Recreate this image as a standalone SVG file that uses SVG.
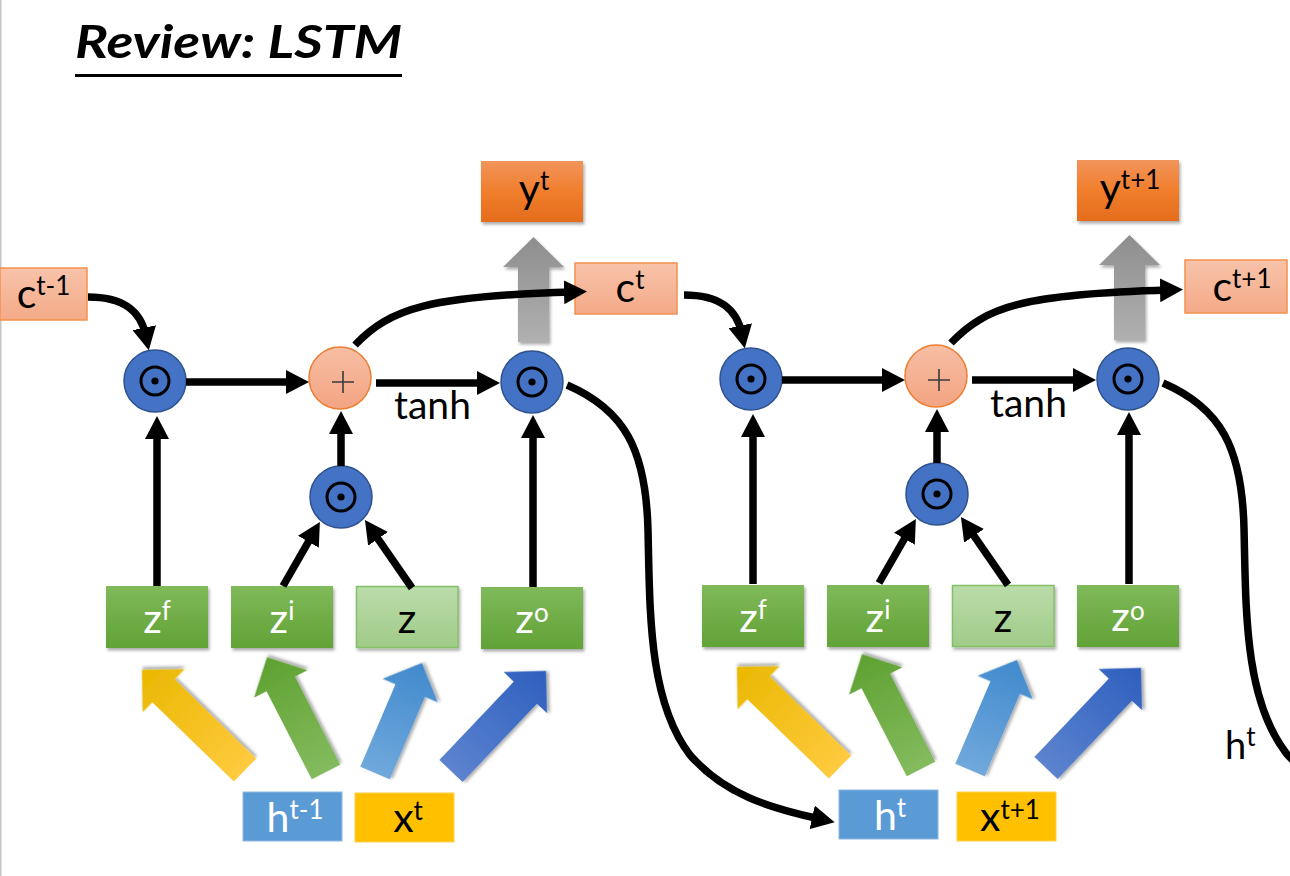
<svg xmlns="http://www.w3.org/2000/svg" width="1290" height="876" viewBox="0 0 1290 876">
<defs>
<style>
.lbl{font-family:Lato,"Open Sans","Liberation Sans",sans-serif;font-size:41px;fill:#000}
.sup{font-size:26px}
.w{fill:#fff}
.conn{fill:none;stroke:#000;stroke-width:7.5}
.arr{marker-end:url(#ah)}
.cbox{fill:url(#gC);stroke:#F4914E;stroke-width:1.5}
.ybox{fill:url(#gY)}
.zbox{fill:url(#gZ)}
.zcbox{fill:url(#gZc);stroke:#84C066;stroke-width:1.5}
.hbox{fill:#5B9BD5;stroke:#8FB8E2;stroke-width:1}
.xbox{fill:#FFC000;stroke:#FFD04A;stroke-width:1}
.mul{fill:#4472C4;stroke:#2F528F;stroke-width:1.5}
.ring{fill:none;stroke:#000;stroke-width:3}
.plus{fill:url(#gP);stroke:#ED7D31;stroke-width:1.5}
.pl{stroke:#3A3A3A;stroke-width:1.6;fill:none}
.sh{filter:url(#sh)}
</style>
<filter id="sh" x="-15%" y="-15%" width="140%" height="150%">
<feDropShadow dx="1.5" dy="2.5" stdDeviation="1.8" flood-color="#000" flood-opacity="0.33"/>
</filter>
<marker id="ah" viewBox="0 0 23 24" markerUnits="userSpaceOnUse" markerWidth="23" markerHeight="24" refX="8" refY="12" orient="auto">
<path d="M0,0 L23,12 L0,24 z" fill="#000"/>
</marker>
<linearGradient id="gC" x1="0" y1="0" x2="0" y2="1"><stop offset="0" stop-color="#F8C3AA"/><stop offset="1" stop-color="#F4AA88"/></linearGradient>
<linearGradient id="gP" x1="0" y1="0" x2="0" y2="1"><stop offset="0" stop-color="#F7BEA4"/><stop offset="1" stop-color="#F3A482"/></linearGradient>
<linearGradient id="gY" x1="0" y1="0" x2="0" y2="1"><stop offset="0" stop-color="#F2945C"/><stop offset="0.5" stop-color="#F07E2C"/><stop offset="1" stop-color="#E46C1C"/></linearGradient>
<linearGradient id="gZ" x1="0" y1="0" x2="0" y2="1"><stop offset="0" stop-color="#80BA5B"/><stop offset="0.5" stop-color="#70AD47"/><stop offset="1" stop-color="#62A337"/></linearGradient>
<linearGradient id="gZc" x1="0" y1="0" x2="0" y2="1"><stop offset="0" stop-color="#BADCAA"/><stop offset="1" stop-color="#A0CB88"/></linearGradient>
<linearGradient id="gG" x1="0" y1="0" x2="0" y2="1"><stop offset="0" stop-color="#8E8E8E"/><stop offset="1" stop-color="#B0B0B0"/></linearGradient>
<linearGradient id="aY" x1="0" y1="0" x2="1" y2="0"><stop offset="0" stop-color="#FFCA3E"/><stop offset="1" stop-color="#E9B800"/></linearGradient>
<linearGradient id="aG" x1="0" y1="0" x2="1" y2="0"><stop offset="0" stop-color="#84BB5E"/><stop offset="1" stop-color="#5EA131"/></linearGradient>
<linearGradient id="aL" x1="0" y1="0" x2="1" y2="0"><stop offset="0" stop-color="#70A8DC"/><stop offset="1" stop-color="#418ACD"/></linearGradient>
<linearGradient id="aB" x1="0" y1="0" x2="1" y2="0"><stop offset="0" stop-color="#5C83CF"/><stop offset="1" stop-color="#2E5FBE"/></linearGradient>
<g id="dot"><circle r="14" class="ring"/><circle r="3.6" fill="#000"/></g>
</defs>

<line x1="0.75" y1="0" x2="0.75" y2="876" stroke="#C4C4C4" stroke-width="1.5"/>

<g id="title">
<text x="75" y="58" font-family="Lato,'Open Sans',sans-serif" font-weight="bold" font-style="italic" font-size="45" textLength="327" lengthAdjust="spacingAndGlyphs">Review: LSTM</text>
<line x1="75" y1="75.5" x2="402" y2="75.5" stroke="#000" stroke-width="3"/>
</g>

<!-- gray output arrows (behind the cell-state curves) -->
<g id="out_arrows">
<polygon class="sh" fill="url(#gG)" points="518,342 518,267 503,267 533.5,237 564,267 549,267 549,342"/>
<polygon class="sh" fill="url(#gG)" transform="translate(596,-2)" points="518,342 518,267 503,267 533.5,237 564,267 549,267 549,342"/>
</g>

<!-- cell 1 nodes -->
<g id="c_prev"><rect class="cbox" x="0" y="268" width="87" height="52"/><text class="lbl" x="43.5" y="308" text-anchor="middle">c<tspan class="sup" dy="-13">t-1</tspan></text></g>
<g id="mul_f1"><circle class="mul" cx="155" cy="381" r="31"/><use href="#dot" x="155" y="381"/></g>
<g id="plus1"><circle class="plus" cx="340" cy="378" r="31"/><path class="pl" d="M332,382 H354 M343,371 V393"/></g>
<g id="mul_o1"><circle class="mul" cx="532" cy="382" r="31"/><use href="#dot" x="532" y="382"/></g>
<g id="mul_i1"><circle class="mul" cx="341" cy="497" r="31"/><use href="#dot" x="341" y="497"/></g>
<g id="zf1"><rect class="zbox sh" x="106" y="586" width="102" height="62"/><text class="lbl w" x="157" y="633" text-anchor="middle">z<tspan class="sup" dy="-13">f</tspan></text></g>
<g id="zi1"><rect class="zbox sh" x="231" y="586" width="102" height="62"/><text class="lbl w" x="282" y="633" text-anchor="middle">z<tspan class="sup" dy="-13">i</tspan></text></g>
<g id="z1"><rect class="zcbox sh" x="356.5" y="586.5" width="101.5" height="61"/><text class="lbl" x="407" y="633" text-anchor="middle">z</text></g>
<g id="zo1"><rect class="zbox sh" x="481" y="587" width="102" height="62"/><text class="lbl w" x="532" y="633" text-anchor="middle">z<tspan class="sup" dy="-11">o</tspan></text></g>
<g id="h_prev"><rect class="hbox" x="243" y="792" width="99" height="49"/><text class="lbl w" x="295" y="832" text-anchor="middle">h<tspan class="sup" dy="-13">t-1</tspan></text></g>
<g id="x_t"><rect class="xbox" x="355" y="793" width="99" height="49"/><text class="lbl" x="408" y="832" text-anchor="middle">x<tspan class="sup" dy="-12">t</tspan></text></g>
<g id="y_t"><rect class="ybox sh" x="481" y="161" width="102" height="61"/><text class="lbl" x="534" y="203" text-anchor="middle">y<tspan class="sup" dy="-13">t</tspan></text></g>
<g id="c_t"><rect class="cbox" x="575" y="263" width="102" height="51"/><text class="lbl" x="630" y="302" text-anchor="middle">c<tspan class="sup" dy="-13">t</tspan></text></g>

<!-- cell 2 nodes -->
<g id="mul_f2" transform="translate(596,-2)"><circle class="mul" cx="155" cy="381" r="31"/><use href="#dot" x="155" y="381"/></g>
<g id="plus2" transform="translate(596,-2)"><circle class="plus" cx="340" cy="378" r="31"/><path class="pl" d="M332,382 H354 M343,371 V393"/></g>
<g id="mul_o2" transform="translate(596,-3)"><circle class="mul" cx="532" cy="382" r="31"/><use href="#dot" x="532" y="382"/></g>
<g id="mul_i2" transform="translate(596,-3)"><circle class="mul" cx="341" cy="497" r="31"/><use href="#dot" x="341" y="497"/></g>
<g id="zf2" transform="translate(596,-1)"><rect class="zbox sh" x="106" y="586" width="102" height="62"/><text class="lbl w" x="157" y="633" text-anchor="middle">z<tspan class="sup" dy="-13">f</tspan></text></g>
<g id="zi2" transform="translate(596,-1)"><rect class="zbox sh" x="231" y="586" width="102" height="62"/><text class="lbl w" x="282" y="633" text-anchor="middle">z<tspan class="sup" dy="-13">i</tspan></text></g>
<g id="z2" transform="translate(596,-1)"><rect class="zcbox sh" x="356.5" y="586.5" width="101.5" height="61"/><text class="lbl" x="407" y="633" text-anchor="middle">z</text></g>
<g id="zo2" transform="translate(596,-2)"><rect class="zbox sh" x="481" y="587" width="102" height="62"/><text class="lbl w" x="532" y="633" text-anchor="middle">z<tspan class="sup" dy="-11">o</tspan></text></g>
<g id="h_t"><rect class="hbox" x="839" y="790" width="99" height="49"/><text class="lbl w" x="890" y="830" text-anchor="middle">h<tspan class="sup" dy="-13">t</tspan></text></g>
<g id="x_t1"><rect class="xbox" x="957" y="792" width="99" height="49"/><text class="lbl" x="1010" y="831" text-anchor="middle">x<tspan class="sup" dy="-12">t+1</tspan></text></g>
<g id="y_t1"><rect class="ybox sh" x="1077" y="160" width="102" height="61"/><text class="lbl" x="1130" y="202" text-anchor="middle">y<tspan class="sup" dy="-13">t+1</tspan></text></g>
<g id="c_t1"><rect class="cbox" x="1185" y="260" width="102" height="53"/><text class="lbl" x="1242" y="301" text-anchor="middle">c<tspan class="sup" dy="-13">t+1</tspan></text></g>

<g id="connectors">
<!-- cell 1 -->
<g id="conn1">
<path class="conn arr" d="M88,297 C125,297 141,312 145.8,335.6"/>
<path class="conn arr" d="M186,382 H294"/>
<path class="conn arr" d="M376,383 H485"/>
<path class="conn arr" d="M157,586 V431"/>
<path class="conn arr" d="M283,586 L312.4,534.9"/>
<path class="conn arr" d="M412,588 L373.5,532.3"/>
<path class="conn arr" d="M341,466 V426"/>
<path class="conn arr" d="M533,587 V430"/>
<path class="conn arr" d="M355,345 C390,308 430,296 572,292"/>
<path class="conn arr" d="M567,385 C625,410 646,450 648,530 C650,610 648,700 690,755 C725,795 770,808 820,819"/>
<polygon class="sh" fill="url(#aY)" transform="translate(245,770) rotate(-135.8)" points="0,-16 113.6,-16 113.6,-30 143.6,0 113.6,30 113.6,16 0,16"/>
<polygon class="sh" fill="url(#aG)" transform="translate(326,772) rotate(-117.2)" points="0,-16 99,-16 99,-30 129,0 99,30 99,16 0,16"/>
<polygon class="sh" fill="url(#aL)" transform="translate(375,773) rotate(-66.9)" points="0,-16 89.6,-16 89.6,-30 119.6,0 89.6,30 89.6,16 0,16"/>
<polygon class="sh" fill="url(#aB)" transform="translate(451,771) rotate(-46.5)" points="0,-16 108,-16 108,-30 138,0 108,30 108,16 0,16"/>
<text class="lbl" x="394" y="419" style="font-size:39px">tanh</text>
</g>
<!-- cell 2 -->
<g id="conn2" transform="translate(596,-2)">
<path class="conn arr" d="M88,297 C125,297 141,312 145.8,335.6"/>
<path class="conn arr" d="M186,382 H294"/>
<path class="conn arr" d="M376,382 H485"/>
<path class="conn arr" d="M157,586 V431"/>
<path class="conn arr" d="M283,585 L312.4,533.9"/>
<path class="conn arr" d="M412,587 L373.5,531.3"/>
<path class="conn arr" d="M341,465 V426"/>
<path class="conn arr" d="M533,586 V429"/>
<path class="conn arr" d="M355,345 C390,308 430,296 572,292"/>
<path class="conn" d="M567,385 C625,410 646,450 648,530 C650,610 648,700 690,755 C725,795 770,808 820,819"/>
<g transform="translate(-1,-1)">
<polygon class="sh" fill="url(#aY)" transform="translate(245,770) rotate(-135.8)" points="0,-16 113.6,-16 113.6,-30 143.6,0 113.6,30 113.6,16 0,16"/>
<polygon class="sh" fill="url(#aG)" transform="translate(326,772) rotate(-117.2)" points="0,-16 99,-16 99,-30 129,0 99,30 99,16 0,16"/>
<polygon class="sh" fill="url(#aL)" transform="translate(375,773) rotate(-66.9)" points="0,-16 89.6,-16 89.6,-30 119.6,0 89.6,30 89.6,16 0,16"/>
<polygon class="sh" fill="url(#aB)" transform="translate(451,771) rotate(-46.5)" points="0,-16 108,-16 108,-30 138,0 108,30 108,16 0,16"/>
</g>
<text class="lbl" x="394" y="419" style="font-size:39px">tanh</text>
</g>
<text class="lbl" x="1225" y="759" style="font-size:38px">h<tspan class="sup" dy="-13">t</tspan></text>
</g>
</svg>
